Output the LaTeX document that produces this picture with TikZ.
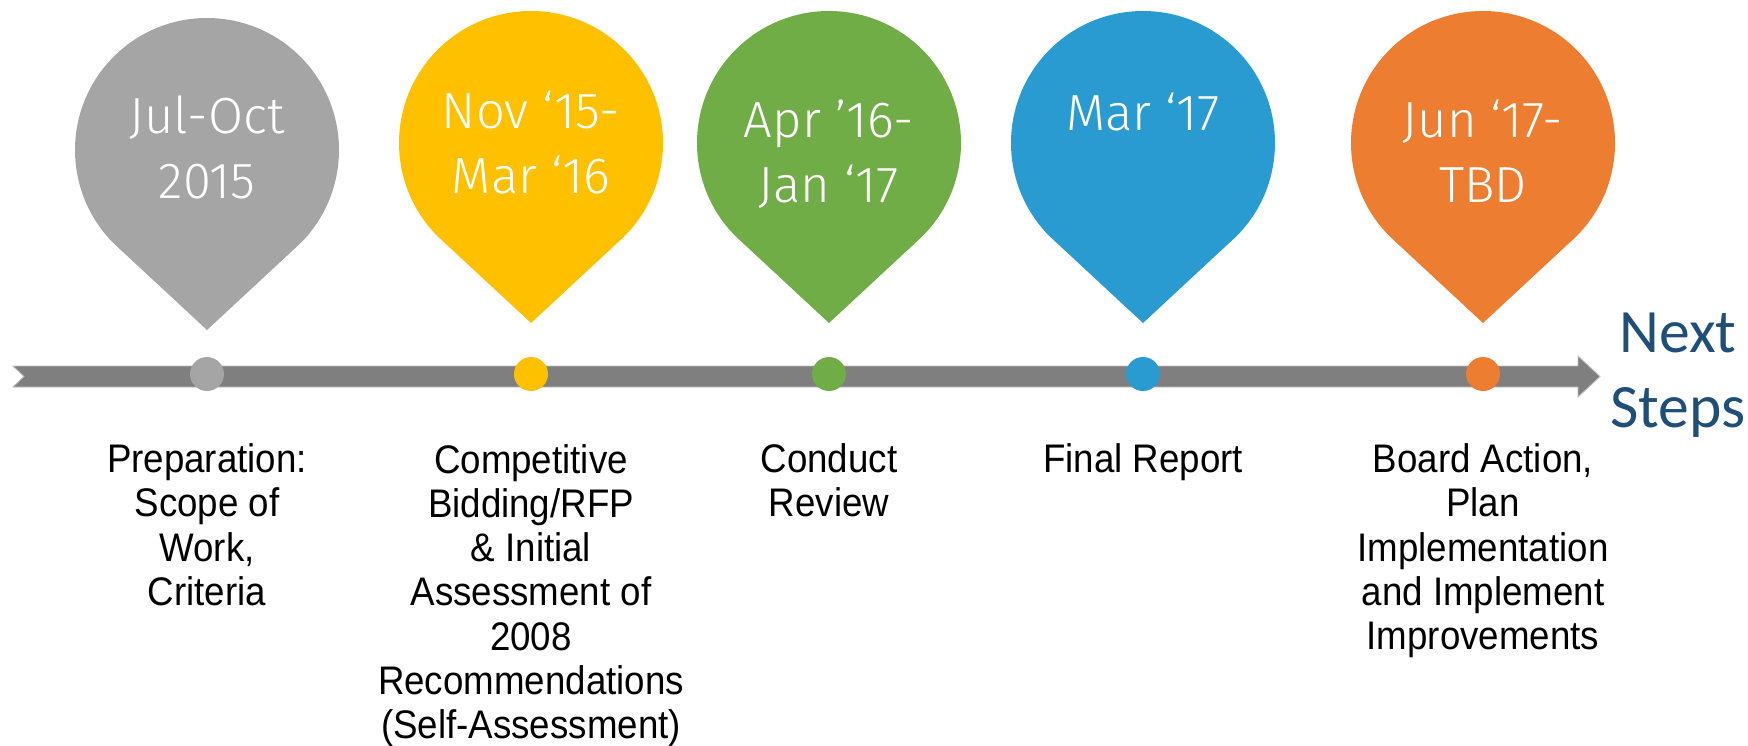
\documentclass[tikz,border=0pt]{standalone}
\usepackage{fontspec}
\usepackage{xcolor}
\setmainfont{Liberation Sans}
\newfontfamily\pinfont{Fira Sans}[UprightFont=* Light]
\newfontfamily\labelfont{Liberation Sans}[FakeStretch=0.92]
\newfontfamily\nextfont{Carlito}
\definecolor{prep}{RGB}{165,165,165}
\definecolor{bidding}{RGB}{255,192,0}
\definecolor{review}{RGB}{112,173,71}
\definecolor{report}{RGB}{41,155,208}
\definecolor{action}{RGB}{237,125,49}
\definecolor{bar}{RGB}{127,127,127}
\definecolor{nextblue}{RGB}{31,78,121}
% teardrop pin: centre x, centre y, colour
\newcommand{\Droplet}[3]{\fill[#3] (#1,#2) ++(225:132) arc[start angle=225,end angle=-45,radius=132] -- (#1,#2-180) -- cycle;}
\tikzstyle{dot}=[circle,minimum size=0.68cm,inner sep=0pt]
\tikzstyle{date}=[text=white,font=\pinfont\fontsize{28.9}{36.8}\selectfont,align=center,anchor=base,inner sep=0pt]
\tikzstyle{phase}=[font=\labelfont\fontsize{22.7}{25.2}\selectfont,align=center,anchor=base,inner sep=0pt]

\begin{document}
\begin{tikzpicture}[x=0.02cm,y=0.02cm]
  \useasboundingbox (0,0) rectangle (1748,-745);
  %% Time line
  \filldraw[fill=bar,draw=bar!50,line width=0.5pt] (13,-366) -- (24,-376.5) -- (13,-387) -- (1578,-387) -- (1578,-397) -- (1600,-376.5) -- (1578,-356) -- (1578,-366) -- cycle;

  %% Pins
  \Droplet{207}{-150}{prep}
  \Droplet{531}{-143}{bidding}
  \Droplet{829}{-143}{review}
  \Droplet{1143}{-143}{report}
  \Droplet{1483}{-143}{action}

  %% anchor base = baseline of the last line
  \draw (207,-198) node[date] (T1) {Jul-Oct\\2015};
  \draw (531,-193) node[date] (T2) {Nov ‘15-\\Mar ‘16};
  \draw (829,-202) node[date] (T3) {Apr ’16-\\Jan ‘17};
  \draw (1143,-130) node[date] (T4) {Mar ‘17};
  \draw (1483,-202) node[date] (T5) {Jun ‘17-\\TBD};

  %% Milestones
  \draw (207,-374) node[dot,fill=prep] (D1) {};
  \draw (531,-374) node[dot,fill=bidding] (D2) {};
  \draw (829,-374) node[dot,fill=review] (D3) {};
  \draw (1143,-374) node[dot,fill=report] (D4) {};
  \draw (1483,-374) node[dot,fill=action] (D5) {};

  \draw (207,-605.3) node[phase] (L1) {Preparation:\\Scope of\\Work,\\Criteria};
  \draw (531,-738.7) node[phase] (L2) {Competitive\\Bidding/RFP\\\& Initial\\Assessment of\\2008\\Recommendations\\(Self-Assessment)};
  \draw (829,-516.4) node[phase] (L3) {Conduct\\Review};
  \draw (1143,-472) node[phase] (L4) {Final Report};
  \draw (1483,-649.8) node[phase] (L5) {Board Action,\\Plan\\Implementation\\and Implement\\Improvements};

  %% Legend things
  \draw (1678,-427) node[anchor=base,inner sep=0pt,align=center,text=nextblue,font=\nextfont\fontsize{35.1}{42.5}\selectfont] (NS) {Next\\Steps};
\end{tikzpicture}
\end{document}
